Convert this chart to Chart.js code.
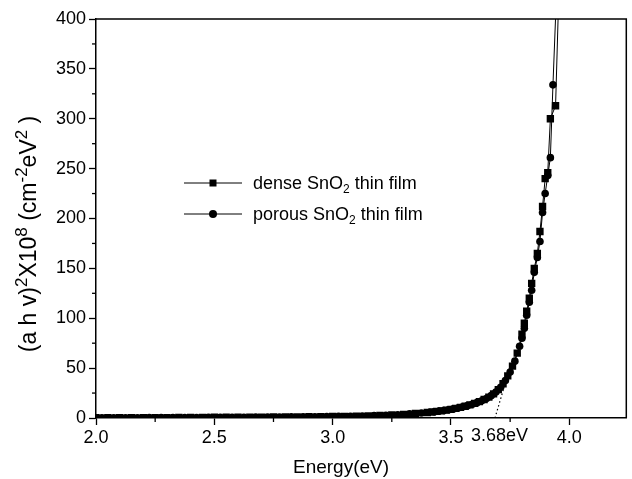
<!DOCTYPE html>
<html><head><meta charset="utf-8">
<script src="https://cdn.jsdelivr.net/npm/chart.js@4/dist/chart.umd.min.js"></script>
<style>html,body{margin:0;padding:0;background:#fff;}#wrap{width:632px;height:479px;position:relative;}</style>
</head><body><div id="wrap"><canvas id="c" width="632" height="479"></canvas></div>
<script>
// ---- data ----
const denseEnergy = [2.00,2.05,2.10,2.15,2.20,2.25,2.30,2.35,2.40,2.45,2.50,2.55,2.60,2.65,2.70,2.75,2.80,2.85,2.90,2.95,3.00,3.05,3.10,3.15,3.20,3.25,3.30,3.35,3.40,
  3.42,3.44,3.46,3.48,3.50,3.52,3.54,3.56,3.58,3.60,3.62,3.64,3.66,3.68,3.70,3.72,3.74,3.76,3.78,
  3.800,3.810,3.820,3.831,3.841,3.852,3.865,3.876,3.887,3.898,3.909,3.920,3.942,3.955];
const denseValues = [0.2,0.2,0.3,0.3,0.3,0.4,0.4,0.5,0.5,0.6,0.7,0.7,0.8,0.9,0.9,1.0,1.1,1.2,1.3,1.4,1.5,1.7,1.9,2.2,2.6,3.0,3.7,4.5,5.5,
  6.0,6.6,7.2,7.9,8.7,9.6,10.6,11.8,13.1,14.6,16.4,18.5,21.0,24.2,28.4,34.3,42.3,52.0,65.0,
  84,95,107,120,135,150,165,187,212,240,246,300,313,420];
const porousEnergy = [2.025,2.075,2.125,2.175,2.225,2.275,2.325,2.375,2.425,2.475,2.525,2.575,2.625,2.675,2.725,2.775,2.825,2.875,2.925,2.975,3.025,3.075,3.125,3.175,3.225,3.275,3.325,3.375,
  3.43,3.45,3.47,3.49,3.51,3.53,3.55,3.57,3.59,3.61,3.63,3.65,3.67,3.69,3.71,3.73,3.75,3.77,3.79,
  3.800,3.810,3.820,3.831,3.841,3.852,3.865,3.876,3.887,3.898,3.909,3.920,3.931,3.945];
const porousValues = [0.2,0.2,0.3,0.3,0.4,0.4,0.4,0.5,0.5,0.6,0.7,0.7,0.8,0.9,1.0,1.0,1.1,1.2,1.3,1.5,1.6,1.8,2.0,2.4,2.8,3.3,4.1,5.0,
  6.3,6.9,7.5,8.3,9.1,10.1,11.2,12.4,13.8,15.4,17.3,19.6,22.4,26.0,30.8,37.5,46.0,57.0,72.0,
  80,90,103,116,128,146,161,177,206,225,243,261,334,420];
const tangentEnergy = [3.686, 3.722];
const tangentValues = [0, 29];
const xTickValues = [2.0, 2.5, 3.0, 3.5, 3.68, 4.0];
const xTickLabels = ['2.0', '2.5', '3.0', '3.5', '3.68eV', '4.0'];
const xMinorTicks = [2.25, 2.75, 3.25, 3.75];
const yTickValues = [0, 50, 100, 150, 200, 250, 300, 350, 400];
const yMinorTicks = [25, 75, 125, 175, 225, 275, 325, 375];
const legendLabels = [
  [{t:'dense SnO'},{t:'2',s:'sub'},{t:' thin film'}],
  [{t:'porous SnO'},{t:'2',s:'sub'},{t:' thin film'}]
];
const xTitleParts = [{t:'Energy(eV)'}];
const yTitleParts = [{t:'(a h v)'},{t:'2',s:'sup'},{t:'X10'},{t:'8',s:'sup'},{t:' (cm'},{t:'-2',s:'sup'},{t:'eV'},{t:'2',s:'sup'},{t:' )'}];

const FAM = '"Liberation Sans", Arial, sans-serif';

function richWidth(ctx, parts, size, ratio){
  let w = 0;
  parts.forEach(p => { ctx.font = (p.s ? Math.round(size*ratio) : size) + 'px ' + FAM; w += ctx.measureText(p.t).width; });
  return w;
}
function drawRich(ctx, parts, x, y, size, align, ratio){
  ratio = ratio || 0.68;
  const w = richWidth(ctx, parts, size, ratio);
  let cx = align === 'center' ? x - w/2 : x;
  ctx.textAlign = 'left'; ctx.textBaseline = 'alphabetic'; ctx.fillStyle = '#000';
  parts.forEach(p => {
    ctx.font = (p.s ? Math.round(size*ratio) : size) + 'px ' + FAM;
    const dy = p.s === 'sup' ? -size*0.40 : (p.s === 'sub' ? size*0.22 : 0);
    ctx.fillText(p.t, cx, y + dy);
    cx += ctx.measureText(p.t).width;
  });
}

const extras = {
  id: 'extras',
  afterDraw(chart){
    const {ctx, chartArea: a, scales: {x, y}} = chart;
    ctx.save();
    ctx.strokeStyle = '#000';
    ctx.lineWidth = 1.5;
    ctx.beginPath(); ctx.moveTo(a.left, a.top); ctx.lineTo(a.right - 0.5, a.top); ctx.lineTo(a.right - 0.5, a.bottom); ctx.stroke();
    ctx.lineWidth = 1.3;
    xMinorTicks.forEach(v => { const px = x.getPixelForValue(v); ctx.beginPath(); ctx.moveTo(px, a.bottom); ctx.lineTo(px, a.bottom + 4); ctx.stroke(); });
    yMinorTicks.forEach(v => { const py = y.getPixelForValue(v); ctx.beginPath(); ctx.moveTo(a.left, py); ctx.lineTo(a.left - 4, py); ctx.stroke(); });
    // special band-gap label, offset like the reference
    const i368 = xTickValues.indexOf(3.68);
    ctx.font = '18px ' + FAM; ctx.fillStyle = '#000'; ctx.textAlign = 'center'; ctx.textBaseline = 'top';
    ctx.fillText(xTickLabels[i368], x.getPixelForValue(3.68) + 6, a.bottom + 9);
    // axis titles
    drawRich(ctx, xTitleParts, 341, 473, 19, 'center');
    ctx.save(); ctx.translate(36, 234); ctx.rotate(-Math.PI/2);
    drawRich(ctx, yTitleParts, 0, 0, 23, 'center', 0.74);
    ctx.restore();
    // legend
    const rows = [183, 214];
    const styles = ['rect', 'circle'];
    rows.forEach((ry, i) => {
      ctx.lineWidth = 1; ctx.strokeStyle = '#000';
      ctx.beginPath(); ctx.moveTo(184, ry); ctx.lineTo(242, ry); ctx.stroke();
      ctx.fillStyle = '#000';
      if (styles[i] === 'rect') ctx.fillRect(209.5, ry - 3.5, 7, 7);
      else { ctx.beginPath(); ctx.arc(213, ry, 4, 0, Math.PI*2); ctx.fill(); }
      drawRich(ctx, legendLabels[i], 253, ry + 6, 18, 'left');
    });
    ctx.restore();
  }
};

const toPts = (xs, ys) => xs.map((v, i) => ({x: v, y: ys[i]}));

new Chart(document.getElementById('c'), {
  type: 'line',
  data: {
    datasets: [
      {label: 'dense', data: toPts(denseEnergy, denseValues), borderColor: '#000', borderWidth: 1,
       pointStyle: 'rect', pointRadius: 5.2, pointBackgroundColor: '#000', pointBorderWidth: 0, clip: 0, tension: 0},
      {label: 'porous', data: toPts(porousEnergy, porousValues), borderColor: '#000', borderWidth: 1,
       pointStyle: 'circle', pointRadius: 3.8, pointBackgroundColor: '#000', pointBorderWidth: 0, clip: 0, tension: 0},
      {label: 'tangent', data: toPts(tangentEnergy, tangentValues), borderColor: '#000', borderWidth: 1.2,
       borderDash: [1.5, 2.5], pointRadius: 0, clip: 0}
    ]
  },
  options: {
    responsive: false, animation: false, devicePixelRatio: 1,
    layout: {padding: {left: 0, right: 1, top: 19, bottom: 0}},
    plugins: {legend: {display: false}, tooltip: {enabled: false}},
    scales: {
      x: {
        type: 'linear', min: 2, max: 4.243,
        afterBuildTicks: s => { s.ticks = xTickValues.map(v => ({value: v})); },
        afterFit: s => { s.height = 61; },
        ticks: {autoSkip: false, maxRotation: 0, minRotation: 0, color: '#000', padding: 2,
          font: {size: 18, family: FAM},
          callback: v => (v === 3.68 ? '' : xTickLabels[xTickValues.indexOf(v)])},
        grid: {drawOnChartArea: false, tickLength: 7, tickWidth: 1.3,
          tickColor: c => (c.tick && c.tick.value === 3.68) ? 'rgba(0,0,0,0)' : '#000'},
        border: {color: '#000', width: 1.5}
      },
      y: {
        type: 'linear', min: 0, max: 400,
        afterBuildTicks: s => { s.ticks = yTickValues.map(v => ({value: v})); },
        afterFit: s => { s.width = 96; },
        ticks: {color: '#000', padding: 3, font: {size: 18, family: FAM}},
        grid: {drawOnChartArea: false, tickLength: 7, tickWidth: 1.3, tickColor: '#000'},
        border: {color: '#000', width: 1.5}
      }
    }
  },
  plugins: [extras]
});
</script></body></html>
